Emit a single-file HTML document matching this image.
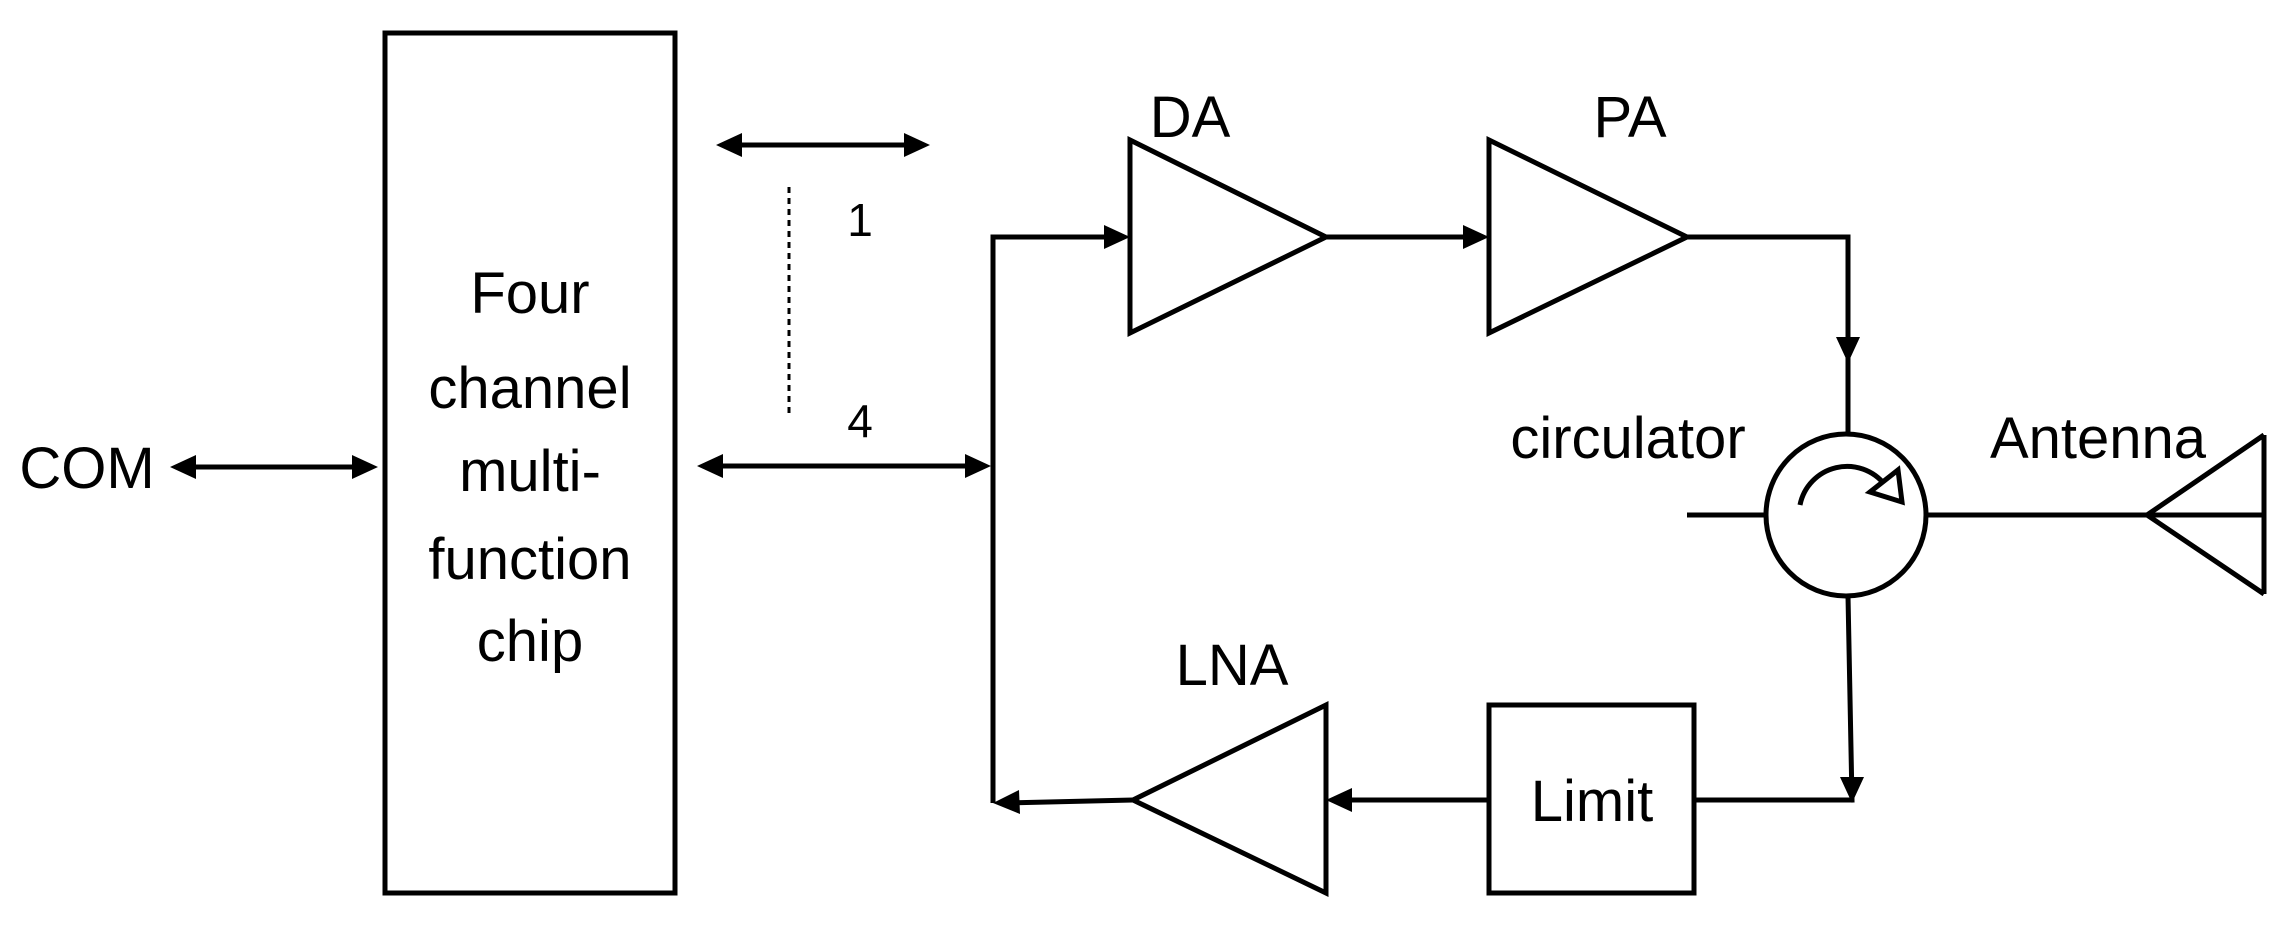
<!DOCTYPE html>
<html><head><meta charset="utf-8"><style>
html,body{margin:0;padding:0;background:#fff}
svg{display:block}
text{font-family:"Liberation Sans",sans-serif;fill:#000}
</style></head><body>
<svg width="2290" height="928" viewBox="0 0 2290 928" xmlns="http://www.w3.org/2000/svg">
<g stroke="#000" stroke-width="5" fill="none">
<rect x="385" y="33" width="290" height="860"/>
<line x1="180" y1="467" x2="370" y2="467"/>
<line x1="724" y1="145" x2="922" y2="145"/>
<line x1="789" y1="187" x2="789" y2="415" stroke-width="3" stroke-dasharray="6,5"/>
<line x1="705" y1="466" x2="983" y2="466"/>
<polyline points="1120,237 993,237 993,803"/>
<polygon points="1130,140 1326,237 1130,333"/>
<line x1="1326" y1="237" x2="1478" y2="237"/>
<polygon points="1489,140 1687,237 1489,333"/>
<polyline points="1687,237 1848,237 1848,434"/>
<ellipse cx="1846" cy="515" rx="80" ry="81"/>
<path d="M1800,505 A48,48 0 0 1 1885,485"/>
<line x1="1687" y1="515" x2="1766" y2="515"/>
<line x1="1926" y1="515" x2="2264" y2="515"/>
<polyline points="2264,435 2147,515 2264,594"/>
<line x1="2264" y1="435" x2="2264" y2="594"/>
<polyline points="1848,596 1852,800 1694,800"/>
<rect x="1489" y="705" width="205" height="188"/>
<line x1="1489" y1="800" x2="1336" y2="800"/>
<polygon points="1326,705 1326,893 1133,800"/>
<line x1="1133" y1="800" x2="1005" y2="803"/>
</g>
<g fill="#000">
<polygon points="170,467 196,455 196,479"/>
<polygon points="378,467 352,455 352,479"/>
<polygon points="716,145 742,133 742,157"/>
<polygon points="930,145 904,133 904,157"/>
<polygon points="697,466 723,454 723,478"/>
<polygon points="991,466 965,454 965,478"/>
<polygon points="1130,237 1104,225 1104,249"/>
<polygon points="1489,237 1463,225 1463,249"/>
<polygon points="1848,363 1836,337 1860,337"/>
<polygon points="1852,803 1840,777 1864,777"/>
<polygon points="1326,800 1352,788 1352,812"/>
<polygon points="993,803 1019,790 1020,814"/>
</g>
<polygon points="1870,492 1898,470 1902,502" fill="#fff" stroke="#000" stroke-width="5"/>
<g font-size="58" text-anchor="middle">
<text x="530" y="313">Four</text>
<text x="530" y="408">channel</text>
<text x="530" y="491">multi-</text>
<text x="530" y="579">function</text>
<text x="530" y="661">chip</text>
<text x="87" y="488">COM</text>
<text x="1190" y="137">DA</text>
<text x="1630" y="137">PA</text>
<text x="1232" y="685">LNA</text>
<text x="1592" y="821">Limit</text>
<text x="1628" y="458">circulator</text>
<text x="2098" y="458">Antenna</text>
</g>
<g font-size="46" text-anchor="middle">
<text x="860" y="236">1</text>
<text x="860" y="437">4</text>
</g>
</svg>
</body></html>
